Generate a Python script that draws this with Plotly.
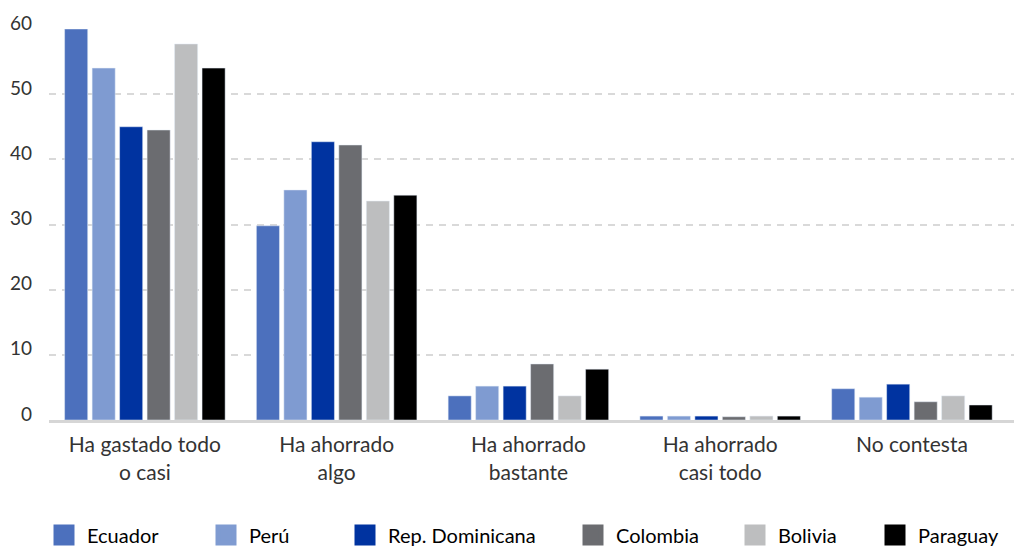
import plotly.graph_objects as go

CATEGORIES = [
    "Ha gastado todo<br>o casi",
    "Ha ahorrado<br>algo",
    "Ha ahorrado<br>bastante",
    "Ha ahorrado<br>casi todo",
    "No contesta",
]

COUNTRIES = ["Ecuador", "Perú", "Rep. Dominicana", "Colombia", "Bolivia", "Paraguay"]

ECUADOR = [60.0, 29.8, 3.7, 0.6, 4.8]
PERU = [54.0, 35.3, 5.2, 0.6, 3.5]
REP_DOMINICANA = [45.0, 42.7, 5.2, 0.6, 5.5]
COLOMBIA = [44.5, 42.2, 8.6, 0.5, 2.8]
BOLIVIA = [57.7, 33.6, 3.7, 0.6, 3.7]
PARAGUAY = [54.0, 34.5, 7.8, 0.6, 2.3]

Y_TICKS = [0, 10, 20, 30, 40, 50, 60]

SERIES = [ECUADOR, PERU, REP_DOMINICANA, COLOMBIA, BOLIVIA, PARAGUAY]
COLORS = ["#4c70bd", "#7f9bd1", "#0033a0", "#6b6c70", "#bdbebf", "#000000"]

# page body adds an 8px margin, so the figure is drawn 8px smaller
W, H = 1014, 539

# left edge of each legend box (figure px)
LEGEND_X = [33, 195, 334, 562, 724, 864]

FONT = "Lato, 'Open Sans', sans-serif"

fig = go.Figure()

for name, vals, color in zip(COUNTRIES, SERIES, COLORS):
    fig.add_trace(
        go.Bar(
            x=CATEGORIES,
            y=vals,
            name=name,
            marker_color=color,
            showlegend=False,
        )
    )

# legend-only markers so the squares come out larger than bar swatches
for i, (name, color) in enumerate(zip(COUNTRIES, COLORS)):
    fig.add_trace(
        go.Scatter(
            x=[None],
            y=[None],
            mode="markers",
            name=name,
            marker=dict(symbol="square", size=16, color=color, line=dict(color=color, width=5)),
            legend="legend" if i == 0 else f"legend{i + 1}",
        )
    )

legends = {}
for i, lx in enumerate(LEGEND_X):
    key = "legend" if i == 0 else f"legend{i + 1}"
    legends[key] = dict(
        xref="container",
        yref="container",
        x=lx / W,
        y=1 - 527 / H,
        xanchor="left",
        yanchor="middle",
        orientation="h",
        itemwidth=36,
        font=dict(family=FONT, size=20, color="#000000"),
        bgcolor="rgba(0,0,0,0)",
        itemclick=False,
    )

fig.update_layout(
    width=W,
    height=H,
    margin=dict(l=41, r=0, t=21, b=127),
    paper_bgcolor="white",
    plot_bgcolor="white",
    barmode="group",
    bargap=0.14,
    bargroupgap=0.16,
    font=dict(family=FONT, size=19, color="#333333"),
    xaxis=dict(
        range=[-0.5, 4.574],
        showgrid=False,
        showline=True,
        linecolor="#d6d6d6",
        linewidth=3,
        ticks="",
        ticklabelstandoff=4,
        tickfont=dict(size=21, color="#333333"),
    ),
    yaxis=dict(
        range=[0, 60],
        tickvals=Y_TICKS,
        showgrid=True,
        gridcolor="#d9d9d9",
        gridwidth=1.5,
        griddash="7px,6px",
        zeroline=False,
        showline=False,
        ticks="",
        ticklabelstandoff=16,
        ticklabelshift=-6,
        tickfont=dict(size=19, color="#333333"),
    ),
    **legends,
)

fig.write_html("out.html")
